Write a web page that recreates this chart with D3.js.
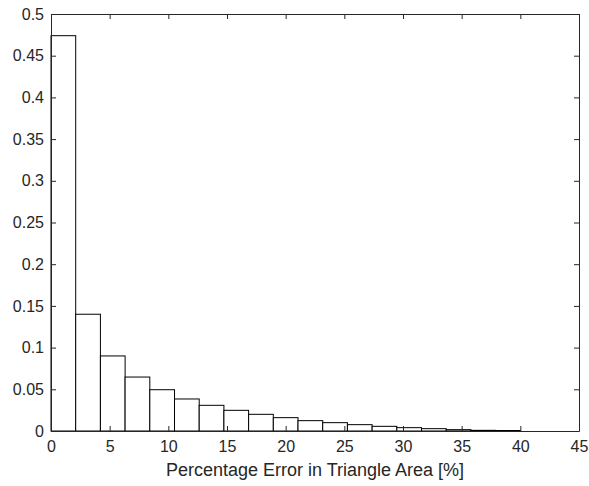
<!DOCTYPE html>
<html>
<head>
<meta charset="utf-8">
<script src="https://d3js.org/d3.v7.min.js"></script>
<style>
  body { margin: 0; background: #fff; }
  text { font-family: "Liberation Sans", Arial, sans-serif; fill: #262626; }
</style>
</head>
<body>
<div class="graph"></div>
<script>
// histogram bins: 19 equal bins from 0 to 40
const binStart = 0;
const binEnd = 40;
const counts = [
  0.474, 0.140, 0.090, 0.0647, 0.0495, 0.0384, 0.0308, 0.0248, 0.020, 0.016,
  0.0124, 0.010, 0.0076, 0.0056, 0.0040, 0.0028, 0.0016, 0.0008, 0.0006
];
const xTicks = [0, 5, 10, 15, 20, 25, 30, 35, 40, 45];
const yTicks = [0, 0.05, 0.1, 0.15, 0.2, 0.25, 0.3, 0.35, 0.4, 0.45, 0.5];
const xLabel = 'Percentage Error in Triangle Area [%]';

const width = 589, height = 486;
const m = { left: 51, right: 579, top: 14, bottom: 431 };
const binW = (binEnd - binStart) / counts.length;

const x = d3.scaleLinear().domain([0, 45]).range([m.left, m.right]);
const y = d3.scaleLinear().domain([0, 0.5]).range([m.bottom, m.top]);

const svg = d3.select('.graph').append('svg')
  .attr('width', width)
  .attr('height', height);

// bars
svg.append('g').selectAll('rect')
  .data(counts)
  .enter()
  .append('rect')
  .attr('x', (d, i) => x(binStart + i * binW))
  .attr('y', d => y(d))
  .attr('width', (d, i) => x(binStart + (i + 1) * binW) - x(binStart + i * binW))
  .attr('height', d => y(0) - y(d))
  .attr('fill', '#fff')
  .attr('stroke', '#000')
  .attr('stroke-width', 1);

const fmt = d => d3.format('~g')(d);

// axes, ticks pointing inwards
const tickLen = 5;
svg.append('g')
  .attr('transform', `translate(0,${m.bottom})`)
  .call(d3.axisBottom(x).tickValues(xTicks).tickFormat(fmt).tickSizeInner(-tickLen).tickSizeOuter(0).tickPadding(10))
  .call(g => g.selectAll('text').attr('font-size', 16).attr('dy', '0.71em'));
svg.append('g')
  .attr('transform', `translate(${m.left},0)`)
  .call(d3.axisLeft(y).tickValues(yTicks).tickFormat(fmt).tickSizeInner(-tickLen).tickSizeOuter(0).tickPadding(7))
  .call(g => g.selectAll('text').attr('font-size', 16));
svg.append('g')
  .attr('transform', `translate(0,${m.top})`)
  .call(d3.axisTop(x).tickValues(xTicks).tickFormat('').tickSizeInner(-tickLen).tickSizeOuter(0));
svg.append('g')
  .attr('transform', `translate(${m.right},0)`)
  .call(d3.axisRight(y).tickValues(yTicks).tickFormat('').tickSizeInner(-tickLen).tickSizeOuter(0));

svg.selectAll('.domain, .tick line').attr('stroke', '#262626');
svg.selectAll('.tick text').attr('fill', '#262626').attr('font-family', '"Liberation Sans", Arial, sans-serif');

svg.append('text')
  .attr('x', (m.left + m.right) / 2)
  .attr('y', 476)
  .attr('text-anchor', 'middle')
  .attr('font-size', 18)
  .text(xLabel);
</script>
</body>
</html>
